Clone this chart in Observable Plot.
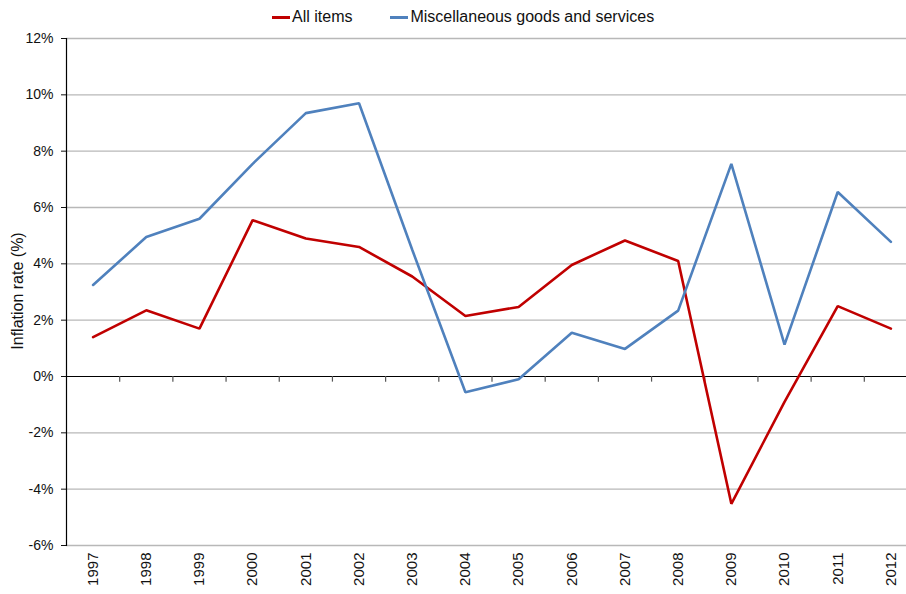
<!DOCTYPE html>
<html>
<head>
<meta charset="utf-8">
<script src="https://cdn.jsdelivr.net/npm/d3@7"></script>
<script src="https://cdn.jsdelivr.net/npm/@observablehq/plot@0.6"></script>
<style>
  body { margin: 0; background: #fff; }
  #wrap { position: relative; width: 906px; height: 594px; font-family: "Liberation Sans", Arial, sans-serif; }
  #legend { position: absolute; top: 8px; left: 272px; display: flex; gap: 38px; font-family: "Liberation Sans", sans-serif; font-size: 16px; color: #111; z-index: 2; }
  #legend .item { display: flex; align-items: center; }
  #legend .sw { width: 18px; height: 3px; margin-right: 2px; }
  #ylabel { position: absolute; left: 18px; top: 291px; transform: translate(-50%, -50%) rotate(-90deg); white-space: nowrap; font-size: 16px; color: #111; z-index: 2; }
  #chart svg text { font-size: 14px; }
  #chart svg g[aria-label="x-axis tick label"] text { font-size: 15px; }
  #chart svg g[aria-label="y-axis tick label"] text { font-size: 14px; }
</style>
</head>
<body>
<div id="wrap">
  <div id="legend"></div>
  <div id="ylabel">Inflation rate (%)</div>
  <div id="chart"></div>
</div>
<script>
const years = [1997, 1998, 1999, 2000, 2001, 2002, 2003, 2004, 2005, 2006, 2007, 2008, 2009, 2010, 2011, 2012];
const allItems = [1.4, 2.35, 1.7, 5.55, 4.9, 4.6, 3.55, 2.15, 2.47, 3.96, 4.83, 4.1, -4.52, -0.9, 2.5, 1.7];
const miscGoods = [3.25, 4.95, 5.6, 7.55, 9.35, 9.7, 4.5, -0.56, -0.1, 1.55, 0.98, 2.34, 7.55, 1.13, 6.55, 4.78];
const seriesNames = ["All items", "Miscellaneous goods and services"];
const seriesColors = ["#c00000", "#4f81bd"];
const yTicks = [-6, -4, -2, 0, 2, 4, 6, 8, 10, 12];

const data = [];
years.forEach((yr, i) => {
  data.push({year: yr, value: allItems[i], series: seriesNames[0]});
  data.push({year: yr, value: miscGoods[i], series: seriesNames[1]});
});
const boundaries = years.slice(0, -1).map(y => y + 0.5);

const legend = document.getElementById("legend");
seriesNames.forEach((n, i) => {
  const it = document.createElement("div");
  it.className = "item";
  it.innerHTML = `<span class="sw" style="background:${seriesColors[i]}"></span><span>${n}</span>`;
  legend.appendChild(it);
});

const chart = Plot.plot({
  width: 906,
  height: 594,
  marginTop: 38,
  marginBottom: 49,
  marginLeft: 66,
  marginRight: 0,
  style: {fontFamily: "'Liberation Sans', Arial, sans-serif", fontSize: "14px", color: "#111"},
  x: {type: "linear", domain: [1996.5, 2012.5], range: [66, 917]},
  y: {domain: [-6, 12], range: [545, 38]},
  color: {domain: seriesNames, range: seriesColors},
  marks: [
    Plot.ruleY(yTicks.filter(d => d !== 0), {stroke: "#b8b8b8", strokeWidth: 1.3, strokeOpacity: 1}),
    Plot.ruleY([0], {stroke: "#000", strokeWidth: 1.2}),
    Plot.ruleX(boundaries, {y1: 0, y2: -0.2, stroke: "#555", strokeWidth: 1.2}),
    Plot.frame({anchor: "left", stroke: "#000", strokeWidth: 1.2}),
    Plot.axisY({ticks: yTicks, tickFormat: d => d + "%", tickSize: 5, tickPadding: 8, label: null}),
    Plot.axisX({ticks: years, tickFormat: d => String(d), tickRotate: -90, tickSize: 0, tickPadding: 7, label: null}),
    Plot.line(data, {x: "year", y: "value", z: "series", stroke: "series", strokeWidth: 2.6, strokeLinejoin: "miter"})
  ]
});
document.getElementById("chart").appendChild(chart);
</script>
</body>
</html>
